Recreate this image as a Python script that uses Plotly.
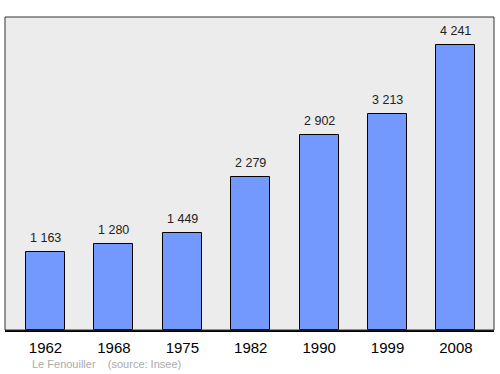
import plotly.graph_objects as go

years = ["1962", "1968", "1975", "1982", "1990", "1999", "2008"]
population = [1163, 1280, 1449, 2279, 2902, 3213, 4241]
labels = ["1 163", "1 280", "1 449", "2 279", "2 902", "3 213", "4 241"]
xpos = list(range(len(years)))

fig = go.Figure()
fig.add_trace(go.Bar(
    x=xpos, y=population, width=0.57,
    marker=dict(color="#7399ff", line=dict(color="#000000", width=1)),
    hoverinfo="skip",
))
for x, y, t in zip(xpos, population, labels):
    fig.add_annotation(x=x, y=y, text=t, showarrow=False, yanchor="bottom",
                       yshift=5, font=dict(family="Liberation Sans, Arial", size=12.5, color="#222222"))

fig.add_shape(type="rect", xref="paper", yref="paper", x0=0, y0=0, x1=1, y1=1,
              line=dict(color="#333333", width=1), layer="above")

fig.add_annotation(xref="paper", yref="paper", x=0.052, y=-0.109, xanchor="left", yanchor="middle",
                   text="Le Fenouiller &nbsp;&nbsp; (source: Insee)", showarrow=False,
                   font=dict(family="Liberation Sans, Arial", size=11, color="#aaaaaa"))

fig.update_layout(
    width=500, height=374,
    margin=dict(l=5, r=6, t=17, b=44),
    paper_bgcolor="white", plot_bgcolor="#ececec",
    showlegend=False,
    xaxis=dict(range=[-0.592, 6.556], tickvals=xpos, ticktext=years, showgrid=False,
               zeroline=False, showline=True, linecolor="#000000", linewidth=2,
               ticks="", ticklabelstandoff=3,
               tickfont=dict(family="Liberation Sans, Arial", size=15, color="#000000"),
               fixedrange=True),
    yaxis=dict(range=[0, 4658], showgrid=False, zeroline=False, showticklabels=False,
               ticks="", fixedrange=True),
    bargap=0,
)
fig.write_html("out.html")
